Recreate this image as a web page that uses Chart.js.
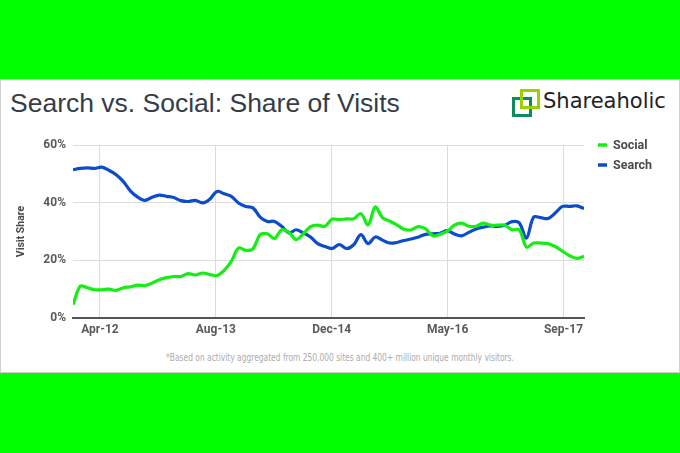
<!DOCTYPE html>
<html>
<head>
<meta charset="utf-8">
<script src="https://cdn.jsdelivr.net/npm/chart.js@4.4.0/dist/chart.umd.min.js"></script>
<style>
  html, body { margin: 0; padding: 0; }
  body { width: 680px; height: 453px; background: #00ff00; position: relative; overflow: hidden; }
  #card { position: absolute; left: 0; top: 79px; width: 678px; height: 292px; background: #fff; border: 1px solid #cfcfcf; }
  #title { position: absolute; left: 10px; top: 88px; font: 26.5px "Liberation Sans", Arial, sans-serif; color: #343d48; white-space: nowrap; }
  #logo { position: absolute; left: 511px; top: 88px; width: 30px; height: 30px; }
  .sq { position: absolute; width: 14px; height: 14px; border: 3px solid; }
  #sq1 { left: 1px; top: 9px; border-color: #0a8c5c; }
  #sq2 { left: 9px; top: 1px; border-color: #9ad000; }
  #brand { position: absolute; left: 543px; top: 89px; font: 21px "DejaVu Sans", sans-serif; color: #222; white-space: nowrap; }
  #note { position: absolute; left: 0; width: 680px; top: 352px; text-align: center; font: 10px "DejaVu Sans Condensed", sans-serif; color: #ababab; white-space: nowrap; transform: scaleX(0.835); transform-origin: 340px 0; }
  #wrap { position: absolute; left: 0; top: 130px; width: 680px; height: 215px; }
</style>
</head>
<body>
<div id="card"></div>
<div id="title">Search vs. Social: Share of Visits</div>
<div id="logo"><div class="sq" id="sq1"></div><div class="sq" id="sq2"></div></div>
<div id="brand">Shareaholic</div>
<div id="note">*Based on activity aggregated from 250,000 sites and 400+ million unique monthly visitors.</div>
<div id="wrap"><canvas id="shareChart" width="680" height="215"></canvas></div>
<script>
// monthly share of visits (%), Dec-11 .. Nov-17
var social = [4.6, 11.0, 10.5, 9.8, 9.8, 10.0, 9.6, 10.5, 10.8, 11.4, 11.2, 12.1,
    13.3, 14.0, 14.4, 14.4, 15.4, 14.9, 15.6, 15.1, 14.7, 16.5, 19.6, 24.3,
    23.5, 24.0, 28.9, 29.2, 27.6, 30.6, 29.7, 27.2, 29.2, 31.7, 32.2, 31.8,
    34.3, 34.1, 34.4, 34.4, 36.2, 32.3, 38.5, 34.8, 33.6, 32.3, 30.8, 30.6,
    31.7, 30.9, 28.5, 29.0, 30.1, 32.2, 32.9, 31.8, 31.8, 32.9, 32.2, 32.2,
    32.2, 30.6, 30.6, 24.6, 26.0, 26.0, 25.8, 24.8, 23.2, 21.6, 20.7, 21.4];
var search = [51.4, 51.9, 52.1, 51.9, 52.3, 51.2, 49.7, 47.3, 44.0, 41.9, 40.8, 41.9,
    42.6, 42.2, 41.8, 40.7, 40.4, 40.8, 39.9, 41.2, 43.9, 43.1, 42.2, 39.9,
    38.7, 38.2, 35.0, 33.5, 33.5, 31.8, 29.5, 30.6, 29.5, 28.1, 25.8, 24.8,
    24.1, 25.5, 24.1, 25.4, 28.9, 25.8, 28.1, 27.0, 26.0, 26.2, 26.9, 27.4,
    28.1, 29.0, 29.2, 29.4, 30.3, 29.1, 28.5, 29.7, 30.9, 31.5, 31.9, 31.8,
    32.2, 33.4, 33.0, 27.7, 35.0, 34.8, 34.5, 36.4, 38.7, 38.7, 38.9, 38.0];

var tickLabels = ['Apr-12', 'Aug-13', 'Dec-14', 'May-16', 'Sep-17'];
var tickAt = [3.75, 19.85, 35.95, 52.05, 68.15]; // month index of each label
var yTicks = [0, 20, 40, 60];

function points(arr) {
    return arr.map(function (v, i) { return { x: i, y: v }; });
}

// legend drawn by hand, stacked to the right of the plot
var sideLegend = {
    id: 'sideLegend',
    afterDraw: function (chart) {
        var ctx = chart.ctx;
        var x = chart.chartArea.right + 14;
        ctx.save();
        ctx.font = 'bold 12.5px Roboto';
        ctx.textBaseline = 'middle';
        chart.data.datasets.forEach(function (ds, i) {
            var y = chart.chartArea.top + i * 20;
            ctx.strokeStyle = ds.borderColor;
            ctx.lineWidth = 3.5;
            ctx.beginPath();
            ctx.moveTo(x, y);
            ctx.lineTo(x + 9, y);
            ctx.stroke();
            ctx.fillStyle = '#4a4a4a';
            ctx.fillText(ds.label, x + 15, y + 0.5);
        });
        ctx.restore();
    }
};

var ctx = document.getElementById('shareChart').getContext('2d');
var shareChart = new Chart(ctx, {
    type: 'line',
    data: {
        datasets: [{
            label: 'Social',
            data: points(social),
            borderColor: '#14ee14',
            borderWidth: 3.2,
            pointRadius: 0,
            tension: 0.35
        }, {
            label: 'Search',
            data: points(search),
            borderColor: '#0b4bcc',
            borderWidth: 3.2,
            pointRadius: 0,
            tension: 0.35
        }]
    },
    options: {
        responsive: false,
        animation: false,
        layout: { padding: { top: 15, right: 96, bottom: 0, left: 0 } },
        plugins: { legend: { display: false }, tooltip: { enabled: false } },
        scales: {
            x: {
                type: 'linear',
                min: 0,
                max: social.length - 1,
                afterBuildTicks: function (scale) {
                    scale.ticks = tickAt.map(function (v) { return { value: v }; });
                },
                afterFit: function (scale) { scale.height = 27; },
                grid: { color: '#dcdcdc', drawTicks: false },
                border: { color: '#555', width: 2 },
                ticks: {
                    padding: 5,
                    maxRotation: 0,
                    autoSkip: false,
                    color: '#5a5a5a',
                    font: { family: 'Roboto', size: 12, weight: 'bold' },
                    callback: function (v) {
                        var k = tickAt.indexOf(v);
                        return k >= 0 ? tickLabels[k] : '';
                    }
                }
            },
            y: {
                min: 0,
                max: 60,
                afterBuildTicks: function (scale) {
                    scale.ticks = yTicks.map(function (v) { return { value: v }; });
                },
                afterFit: function (scale) { scale.width = 73; },
                grid: { color: '#dcdcdc', drawTicks: false },
                border: { display: false },
                ticks: {
                    padding: 7,
                    color: '#5a5a5a',
                    font: { family: 'Roboto', size: 12, weight: 'bold' },
                    callback: function (v) { return v + '%'; }
                },
                title: {
                    display: true,
                    text: 'Visit Share',
                    color: '#4a4a4a',
                    font: { family: 'Roboto', size: 10.5, weight: 'bold' },
                    padding: { top: 15, bottom: 0 }
                }
            }
        }
    },
    plugins: [sideLegend]
});
</script>
</body>
</html>
